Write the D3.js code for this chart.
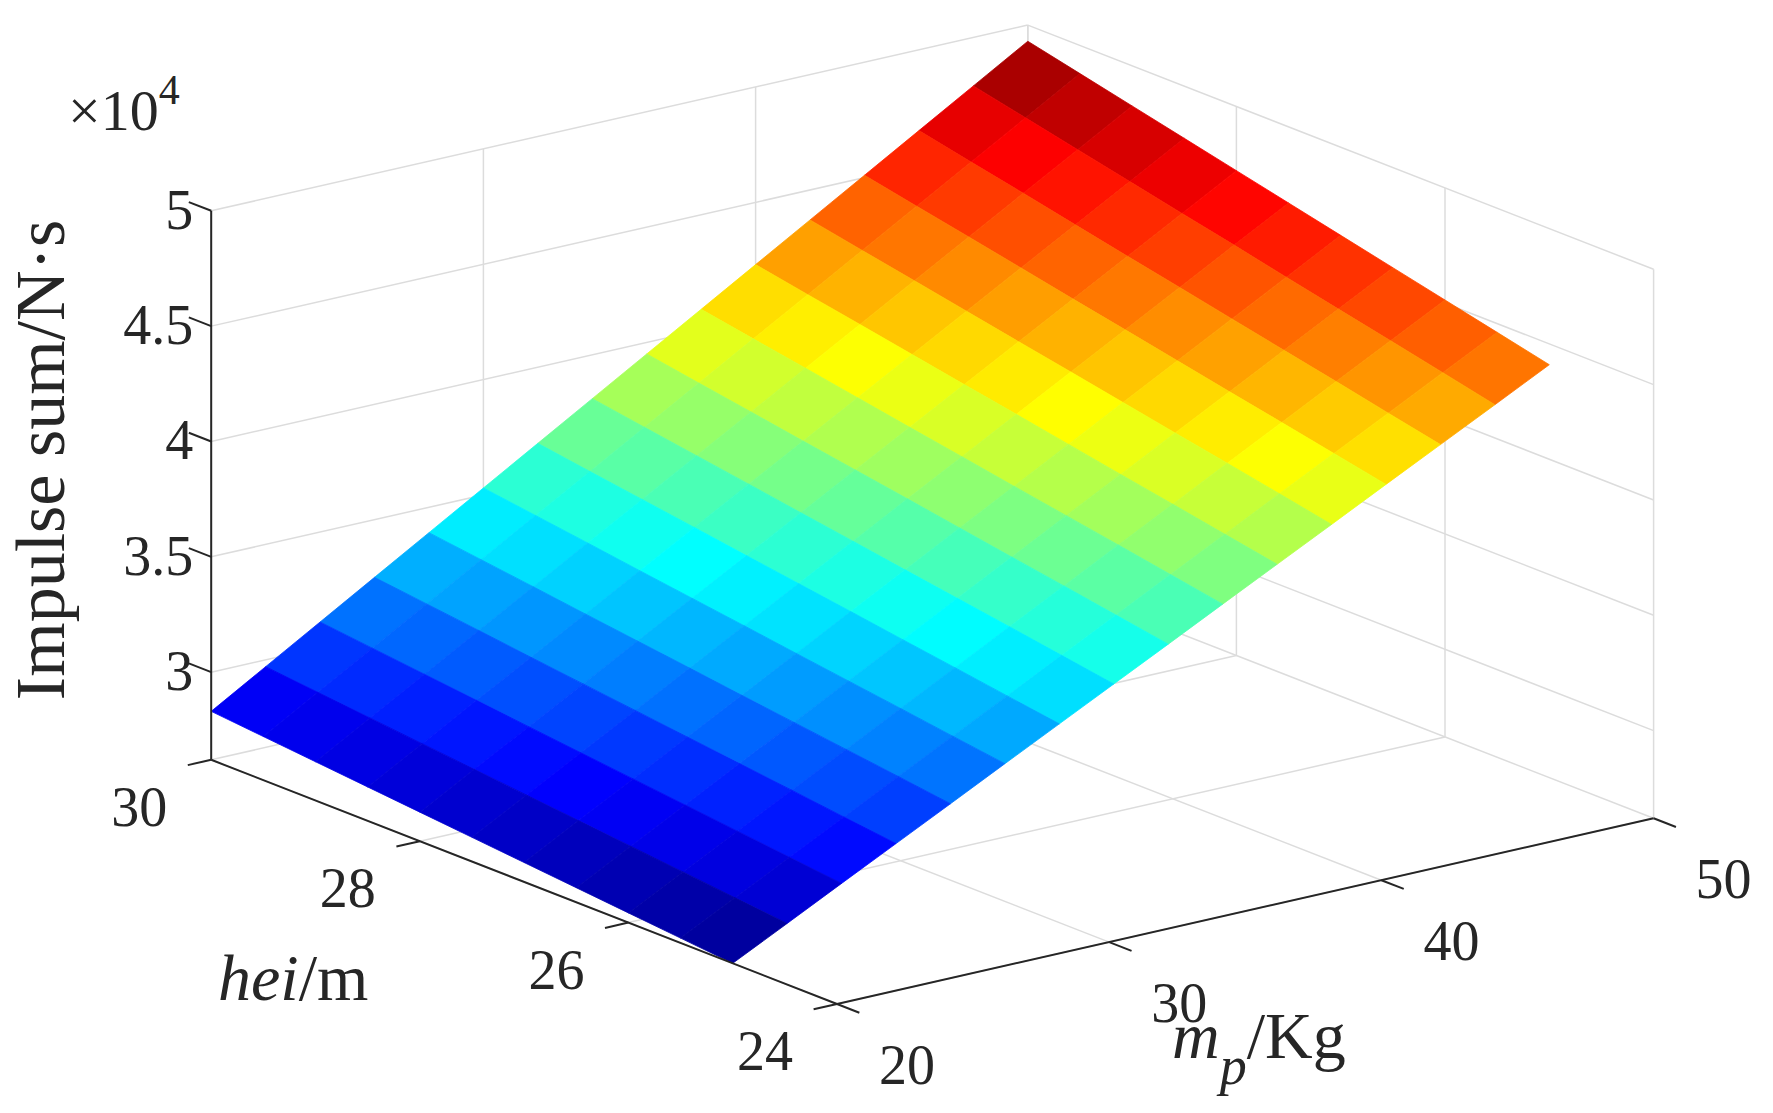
<!DOCTYPE html>
<html>
<head>
<meta charset="utf-8">
<script src="https://cdn.jsdelivr.net/npm/d3@7"></script>
<style>
  body { margin: 0; background: #fff; }
  text { font-family: "Liberation Serif", "Times New Roman", serif; fill: #262626; }
</style>
</head>
<body>
<div id="wrapper"></div>
<script>
(function() {

var width = 1773,
    height = 1113;

// m_p (Kg) grid, hei (m) grid, impulse sum (x10^4 N·s)
var mpValues = [20, 22, 24, 26, 28, 30, 32, 34, 36, 38, 40, 42, 44, 46, 48, 50];
var heiValues = [25, 25.5, 26, 26.5, 27, 27.5, 28, 28.5, 29, 29.5, 30];
var impulse = [
  [2.620, 2.739, 2.859, 2.978, 3.097, 3.217, 3.336, 3.455, 3.574, 3.694, 3.813, 3.932, 4.052, 4.171, 4.290, 4.410],
  [2.641, 2.762, 2.884, 3.005, 3.127, 3.248, 3.369, 3.491, 3.612, 3.734, 3.855, 3.977, 4.098, 4.219, 4.341, 4.462],
  [2.662, 2.786, 2.909, 3.033, 3.156, 3.280, 3.403, 3.527, 3.650, 3.774, 3.897, 4.021, 4.144, 4.268, 4.391, 4.514],
  [2.683, 2.809, 2.934, 3.060, 3.185, 3.311, 3.436, 3.562, 3.687, 3.813, 3.938, 4.064, 4.189, 4.315, 4.440, 4.566],
  [2.704, 2.832, 2.959, 3.087, 3.214, 3.342, 3.470, 3.597, 3.725, 3.852, 3.980, 4.108, 4.235, 4.363, 4.490, 4.618],
  [2.725, 2.855, 2.984, 3.114, 3.244, 3.374, 3.503, 3.633, 3.763, 3.892, 4.022, 4.152, 4.281, 4.411, 4.541, 4.670],
  [2.746, 2.878, 3.009, 3.141, 3.273, 3.405, 3.536, 3.668, 3.800, 3.931, 4.063, 4.195, 4.326, 4.458, 4.590, 4.722],
  [2.767, 2.901, 3.035, 3.168, 3.302, 3.436, 3.570, 3.704, 3.837, 3.971, 4.105, 4.239, 4.373, 4.506, 4.640, 4.774],
  [2.788, 2.924, 3.060, 3.196, 3.332, 3.468, 3.603, 3.739, 3.875, 4.011, 4.147, 4.283, 4.419, 4.555, 4.690, 4.826],
  [2.809, 2.947, 3.085, 3.223, 3.361, 3.499, 3.636, 3.774, 3.912, 4.050, 4.188, 4.326, 4.464, 4.602, 4.740, 4.878],
  [2.830, 2.970, 3.110, 3.250, 3.390, 3.530, 3.670, 3.810, 3.950, 4.090, 4.230, 4.370, 4.510, 4.650, 4.790, 4.930]
];
var mpTicks = [20, 30, 40, 50],
    heiTicks = [24, 26, 28, 30],
    zTicks = [3, 3.5, 4, 4.5, 5];

var zlo = 2.62, zhi = 5;

var sx = d3.scaleLinear().domain([20, 50]).range([0, 1]),
    sy = d3.scaleLinear().domain([24, 30]).range([0, 1]),
    sz = d3.scaleLinear().domain([zlo, zhi]).range([0, 1]);

// projected box: origin at (mp=20, hei=24, floor)
var O = [837, 1004],
    AX = [816.6, -185.7],
    AY = [-625.8, -244.2],
    AZ = [0, -549];

function proj(m, h, z) {
  var u = sx(m), v = sy(h), w = sz(z);
  return [O[0] + u * AX[0] + v * AY[0] + w * AZ[0],
          O[1] + u * AX[1] + v * AY[1] + w * AZ[1]];
}

var zmin = d3.min(impulse, function(r) { return d3.min(r); }),
    zmax = d3.max(impulse, function(r) { return d3.max(r); });

function jet(t) {
  t = Math.max(0, Math.min(1, t));
  function c(x) { return Math.max(0, Math.min(1, x)); }
  var r = c(Math.min(4 * t - 1.5, -4 * t + 4.5)),
      g = c(Math.min(4 * t - 0.5, -4 * t + 3.5)),
      b = c(Math.min(4 * t + 0.5, -4 * t + 2.5));
  return d3.rgb(r * 255, g * 255, b * 255).toString();
}
var color = d3.scaleLinear().domain([zmin, zmax]).range([0, 1]);

var svg = d3.select("#wrapper").append("svg")
    .attr("width", width)
    .attr("height", height);

var line = d3.line();
var grid = svg.append("g").attr("fill", "none").attr("stroke", "#dcdcdc").attr("stroke-width", 1.5);

// floor grid
mpTicks.forEach(function(m) { grid.append("path").attr("d", line([proj(m, 24, zlo), proj(m, 30, zlo)])); });
heiTicks.forEach(function(h) { grid.append("path").attr("d", line([proj(20, h, zlo), proj(50, h, zlo)])); });
// back wall hei = 30
mpTicks.forEach(function(m) { grid.append("path").attr("d", line([proj(m, 30, zlo), proj(m, 30, zhi)])); });
zTicks.forEach(function(z) { grid.append("path").attr("d", line([proj(20, 30, z), proj(50, 30, z)])); });
// side wall mp = 50
heiTicks.forEach(function(h) { grid.append("path").attr("d", line([proj(50, h, zlo), proj(50, h, zhi)])); });
zTicks.forEach(function(z) { grid.append("path").attr("d", line([proj(50, 30, z), proj(50, 24, z)])); });

// surface faces, far ones first
var faces = [];
for (var i = 0; i < heiValues.length - 1; ++i) {
  for (var j = 0; j < mpValues.length - 1; ++j) {
    var pts = [[i, j], [i, j + 1], [i + 1, j + 1], [i + 1, j]].map(function(p) {
      return proj(mpValues[p[1]], heiValues[p[0]], impulse[p[0]][p[1]]);
    });
    var zc = (impulse[i][j] + impulse[i][j + 1] + impulse[i + 1][j] + impulse[i + 1][j + 1]) / 4;
    faces.push({pts: pts, z: zc, depth: sx(mpValues[j]) + sy(heiValues[i])});
  }
}
faces.sort(function(a, b) { return b.depth - a.depth; });

svg.append("g").selectAll("path")
  .data(faces)
  .join("path")
    .attr("d", function(d) { return line(d.pts) + "Z"; })
    .attr("fill", function(d) { return jet(color(d.z)); })
    .attr("stroke", function(d) { return jet(color(d.z)); })
    .attr("stroke-width", 0.8);

// axes
var axes = svg.append("g").attr("fill", "none").attr("stroke", "#262626").attr("stroke-width", 2);
axes.append("path").attr("d", line([proj(20, 30, zlo), proj(20, 24, zlo)]));
axes.append("path").attr("d", line([proj(20, 24, zlo), proj(50, 24, zlo)]));
axes.append("path").attr("d", line([proj(20, 30, zlo), proj(20, 30, zhi)]));

function unit(v, len) { var n = Math.hypot(v[0], v[1]); return [v[0] / n * len, v[1] / n * len]; }
var tHei = unit([-AX[0], -AX[1]], 24),
    tMp = unit([-AY[0], -AY[1]], 24),
    tZ = unit(AY, 24);

heiTicks.forEach(function(h) {
  var p = proj(20, h, zlo);
  axes.append("path").attr("d", line([p, [p[0] + tHei[0], p[1] + tHei[1]]]));
});
mpTicks.forEach(function(m) {
  var p = proj(m, 24, zlo);
  axes.append("path").attr("d", line([p, [p[0] + tMp[0], p[1] + tMp[1]]]));
});
zTicks.forEach(function(z) {
  var p = proj(20, 30, z);
  axes.append("path").attr("d", line([p, [p[0] + tZ[0], p[1] + tZ[1]]]));
});

var labels = svg.append("g").attr("font-size", 56);
heiTicks.forEach(function(h) {
  var p = proj(20, h, zlo);
  labels.append("text").attr("x", p[0] - 72).attr("y", p[1] + 66)
    .attr("text-anchor", "middle").text(h);
});
mpTicks.forEach(function(m) {
  var p = proj(m, 24, zlo);
  labels.append("text").attr("x", p[0] + 70).attr("y", p[1] + 80)
    .attr("text-anchor", "middle").text(m);
});
zTicks.forEach(function(z) {
  var p = proj(20, 30, z);
  labels.append("text").attr("x", p[0] - 18).attr("y", p[1] + 18)
    .attr("text-anchor", "end").text(z);
});

labels.append("text").attr("x", 68).attr("y", 130).attr("font-size", 58)
  .html("×10<tspan dy='-26' font-size='42'>4</tspan>");

svg.append("text").attr("font-size", 70)
  .attr("transform", "translate(64,460) rotate(-90)")
  .attr("text-anchor", "middle")
  .text("Impulse sum/N·s");

svg.append("text").attr("font-size", 66).attr("x", 218).attr("y", 1000)
  .html("<tspan font-style='italic'>hei</tspan>/m");

svg.append("text").attr("font-size", 66).attr("x", 1172).attr("y", 1058)
  .html("<tspan font-style='italic'>m</tspan><tspan font-style='italic' dy='26' font-size='54'>p</tspan><tspan dy='-26'>/Kg</tspan>");

})();
</script>
</body>
</html>
